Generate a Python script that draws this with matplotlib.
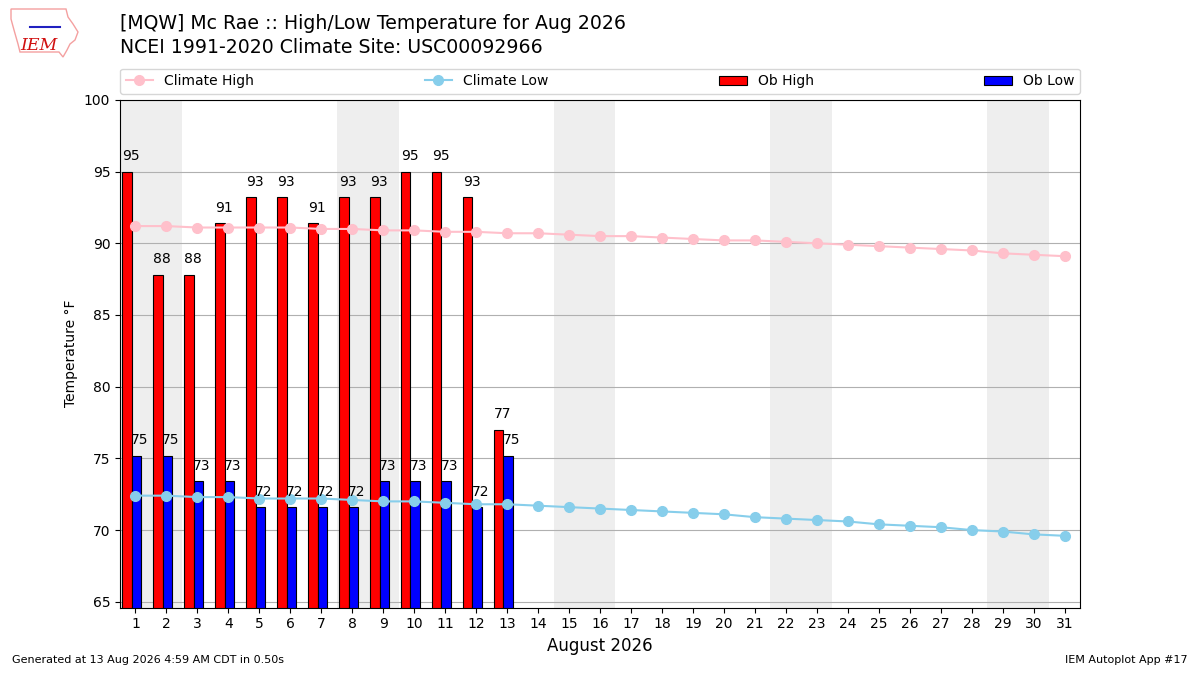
import matplotlib
matplotlib.use("Agg")
import matplotlib.pyplot as plt
import numpy as np
from matplotlib.patches import Polygon

days = list(range(1, 32))
ob_days = list(range(1, 14))
ob_high = [95.0, 87.8, 87.8, 91.4, 93.2, 93.2, 91.4, 93.2, 93.2, 95.0, 95.0, 93.2, 77.0]
ob_low = [75.2, 75.2, 73.4, 73.4, 71.6, 71.6, 71.6, 71.6, 73.4, 73.4, 73.4, 71.6, 75.2]
clim_high = [91.2, 91.2, 91.1, 91.1, 91.1, 91.1, 91.0, 91.0, 90.9, 90.9, 90.8, 90.8, 90.7,
             90.7, 90.6, 90.5, 90.5, 90.4, 90.3, 90.2, 90.2, 90.1, 90.0, 89.9, 89.8, 89.7,
             89.6, 89.5, 89.3, 89.2, 89.1]
clim_low = [72.4, 72.4, 72.3, 72.3, 72.2, 72.2, 72.2, 72.1, 72.0, 72.0, 71.9, 71.8, 71.8,
            71.7, 71.6, 71.5, 71.4, 71.3, 71.2, 71.1, 70.9, 70.8, 70.7, 70.6, 70.4, 70.3,
            70.2, 70.0, 69.9, 69.7, 69.6]
weekend_starts = [1, 8, 15, 22, 29]

title1 = "[MQW] Mc Rae :: High/Low Temperature for Aug 2026"
title2 = "NCEI 1991-2020 Climate Site: USC00092966"
xlabel = "August 2026"
ylabel = "Temperature \u00b0F"
footer_left = "Generated at 13 Aug 2026 4:59 AM CDT in 0.50s"
footer_right = "IEM Autoplot App #17"

fig = plt.figure(figsize=(12, 6.75), dpi=100)
ax = fig.add_axes([0.1, 0.1, 0.8, 0.752])

for ws in weekend_starts:
    ax.axvspan(ws - 0.5, ws + 1.5, color="#eeeeee", zorder=0, lw=0)

ax.grid(axis="y", color="#b0b0b0", lw=0.8, zorder=1)
ax.set_axisbelow(True)

d = np.array(ob_days)
ax.bar(d - 0.27, ob_high, width=0.3, color="red", edgecolor="black", lw=0.8,
       label="Ob High", zorder=2)
ax.bar(d + 0.03, ob_low, width=0.3, color="blue", edgecolor="black", lw=0.8,
       label="Ob Low", zorder=2)

ax.plot(days, clim_high, "-o", color="pink", lw=1.5, ms=7, label="Climate High", zorder=3)
ax.plot(days, clim_low, "-o", color="skyblue", lw=1.5, ms=7, label="Climate Low", zorder=3)

for x, v in zip(ob_days, ob_high):
    ax.text(x - 0.15, v + 0.8, f"{v:.0f}", ha="center", va="baseline", fontsize=10, zorder=4)
for x, v in zip(ob_days, ob_low):
    ax.text(x + 0.14, v + 0.8, f"{v:.0f}", ha="center", va="baseline", fontsize=10, zorder=4)

ax.set_xlim(0.5, 31.5)
ax.set_ylim(64.6, 100)
ax.set_xticks(days)
ax.set_yticks(range(65, 101, 5))
ax.tick_params(labelsize=10)
ax.set_xlabel(xlabel, fontsize=12)
ax.set_ylabel(ylabel, fontsize=10)

handles, labels = ax.get_legend_handles_labels()
order = ["Climate High", "Climate Low", "Ob High", "Ob Low"]
hmap = dict(zip(labels, handles))
ax.legend([hmap[o] for o in order], order, loc="lower left", bbox_to_anchor=(0, 1.012, 1, 0.1),
          mode="expand", ncol=4, borderaxespad=0, fontsize=10)

fig.text(0.1, 0.965, title1, fontsize=13.6, va="center", ha="left")
fig.text(0.1, 0.929, title2, fontsize=13.6, va="center", ha="left")
fig.text(0.01, 0.015, footer_left, fontsize=8, ha="left", va="bottom")
fig.text(0.99, 0.015, footer_right, fontsize=8, ha="right", va="bottom")

# logo approximation
W, H = 1200.0, 675.0
iowa_px = [(11, 9), (66, 9), (68, 17), (73, 24), (78, 32), (75, 40), (70, 44), (67, 50),
           (63, 57), (59, 52), (20, 52), (18, 44), (14, 30), (11, 19)]
poly = Polygon([(x / W, 1 - y / H) for x, y in iowa_px], closed=True, fill=False,
               edgecolor="#f4a0a0", lw=1.0, transform=fig.transFigure)
fig.patches.append(poly)
fig.text(0.0165, 0.933, "IEM", fontsize=12.5, color="#d01010", family="DejaVu Serif",
         style="italic", ha="left", va="center")
fig.lines.append(plt.Line2D([30 / W, 60 / W], [1 - 27 / H, 1 - 27 / H], color="#2020c0",
                            lw=1.5, transform=fig.transFigure))

fig.savefig("out.png", dpi=100)
